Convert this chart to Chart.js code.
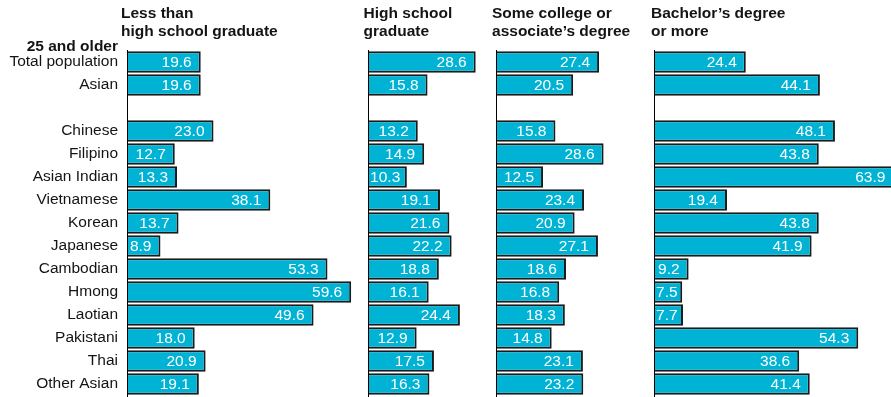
<!DOCTYPE html>
<html>
<head>
<meta charset="utf-8">
<script src="https://cdn.jsdelivr.net/npm/chart.js@4.4.1/dist/chart.umd.min.js"></script>
<style>
  html, body { margin: 0; padding: 0; background: #ffffff; }
  canvas { display: block; }
</style>
</head>
<body>
<canvas id="edu" width="891" height="397"></canvas>
<script>
// Educational attainment, population 25 and older (percent)
const groups = [
  'Total population', 'Asian', '',
  'Chinese', 'Filipino', 'Asian Indian', 'Vietnamese', 'Korean', 'Japanese',
  'Cambodian', 'Hmong', 'Laotian', 'Pakistani', 'Thai', 'Other Asian'
];
const lessThanHighSchool = [19.6, 19.6, null, 23.0, 12.7, 13.3, 38.1, 13.7, 8.9, 53.3, 59.6, 49.6, 18.0, 20.9, 19.1];
const highSchoolGraduate = [28.6, 15.8, null, 13.2, 14.9, 10.3, 19.1, 21.6, 22.2, 18.8, 16.1, 24.4, 12.9, 17.5, 16.3];
const someCollege        = [27.4, 20.5, null, 15.8, 28.6, 12.5, 23.4, 20.9, 27.1, 18.6, 16.8, 18.3, 14.8, 23.1, 23.2];
const bachelorsOrMore    = [24.4, 44.1, null, 48.1, 43.8, 63.9, 19.4, 43.8, 41.9, 9.2, 7.5, 7.7, 54.3, 38.6, 41.4];

const panelTitles = [
  ['Less than', 'high school graduate'],
  ['High school', 'graduate'],
  ['Some college or', 'associate\u2019s degree'],
  ['Bachelor\u2019s degree', 'or more']
];
const groupHeading = '25 and older';

const FONT = '"Liberation Sans", Arial, Helvetica, sans-serif';
const INK = '#141414';
const BAR_FILL = '#00B3D5';
const BAR_EDGE = '#1a1a1a';

const series = [lessThanHighSchool, highSchoolGraduate, someCollege, bachelorsOrMore];
const panelIds = ['x1', 'x2', 'x3', 'x4'];

// Each panel gets its own x scale; weights equal ranges so every panel
// shares one pixels-per-percent ratio.
const panelRanges = [64.1, 34.0, 42.0, 63.0];

const datasets = series.map((values, i) => ({
  label: panelTitles[i].join(' '),
  data: values,
  xAxisID: panelIds[i],
  yAxisID: 'y',
  grouped: false,
  backgroundColor: BAR_FILL,
  borderColor: BAR_EDGE,
  borderWidth: 2,
  borderSkipped: 'start',
  barPercentage: 0.935,
  categoryPercentage: 1.0
}));

const scales = {
  y: {
    type: 'category',
    position: 'left',
    grid: { display: false, drawTicks: false },
    border: { display: false },
    ticks: {
      color: INK,
      padding: 9,
      autoSkip: false,
      font: { family: FONT, size: 15.5 }
    },
    afterFit(scale) {
      scale.width = 127;
      scale.paddingTop = 0;
      scale.paddingBottom = 0;
    }
  }
};
panelIds.forEach((id, i) => {
  scales[id] = {
    type: 'linear',
    position: 'bottom',
    stack: 'panels',
    stackWeight: panelRanges[i],
    min: 0,
    max: panelRanges[i],
    display: false,
    grid: { display: false }
  };
});

const panelDecor = {
  id: 'panelDecor',
  afterDatasetsDraw(chart) {
    const ctx = chart.ctx;
    ctx.save();
    // value labels inside the bar ends
    ctx.font = '15.5px ' + FONT;
    ctx.fillStyle = '#ffffff';
    ctx.textAlign = 'right';
    ctx.textBaseline = 'middle';
    chart.data.datasets.forEach((ds, i) => {
      const meta = chart.getDatasetMeta(i);
      const scale = chart.scales[ds.xAxisID];
      meta.data.forEach((bar, j) => {
        const v = ds.data[j];
        if (v === null || v === undefined) return;
        const txt = v.toFixed(1);
        const w = ctx.measureText(txt).width;
        const x = Math.max(bar.x - 9, scale.left + 2 + w);
        ctx.fillText(txt, x, bar.y + 0.5);
      });
    });
    // zero line of each panel
    ctx.strokeStyle = '#000000';
    ctx.lineWidth = 1;
    panelIds.forEach(id => {
      const s = chart.scales[id];
      const x = Math.round(s.getPixelForValue(0)) + 0.5;
      ctx.beginPath();
      ctx.moveTo(x, chart.chartArea.top - 0.5);
      ctx.lineTo(x, chart.height);
      ctx.stroke();
    });
    ctx.restore();
  },
  afterDraw(chart) {
    const ctx = chart.ctx;
    ctx.save();
    ctx.fillStyle = INK;
    ctx.font = 'bold 15.5px ' + FONT;
    ctx.textBaseline = 'alphabetic';
    ctx.textAlign = 'left';
    const shifts = [-6, -4.5, -4, -3];
    panelIds.forEach((id, i) => {
      const s = chart.scales[id];
      const x = s.left + shifts[i];
      ctx.fillText(panelTitles[i][0], x, 17.5);
      ctx.fillText(panelTitles[i][1], x, 35.5);
    });
    ctx.textAlign = 'right';
    ctx.fillText(groupHeading, chart.scales.y.right - 9, 50.5);
    ctx.restore();
  }
};

new Chart(document.getElementById('edu'), {
  type: 'bar',
  data: { labels: groups, datasets },
  options: {
    indexAxis: 'y',
    responsive: false,
    animation: false,
    layout: { padding: { top: 50.5, bottom: 1.5, left: 0, right: 0 } },
    scales,
    plugins: {
      legend: { display: false },
      title: { display: false },
      tooltip: { enabled: false }
    }
  },
  plugins: [panelDecor]
});
</script>
</body>
</html>
